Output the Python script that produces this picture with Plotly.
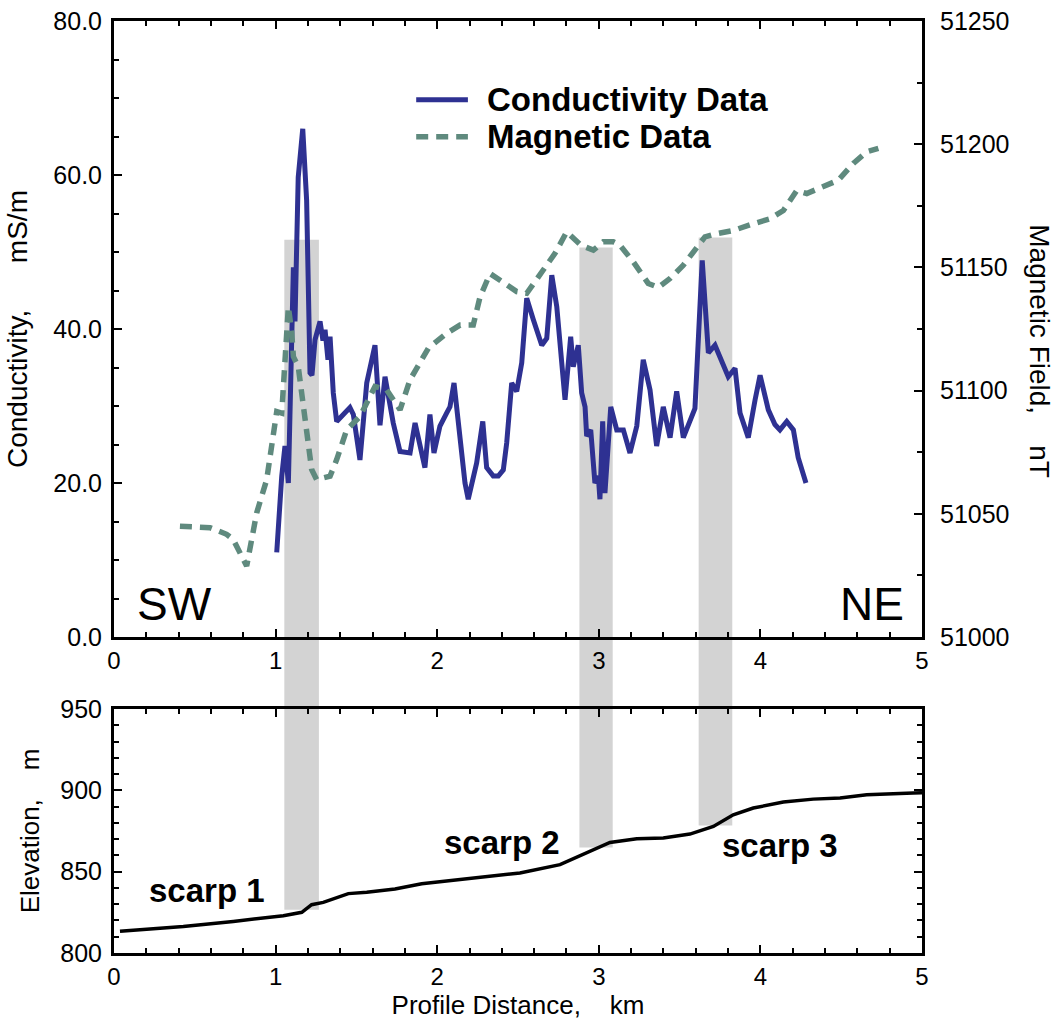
import plotly.graph_objects as go

# ---------------- data ----------------
cond_km = [1.007, 1.038, 1.058, 1.079, 1.110, 1.120, 1.140, 1.168, 1.192, 1.213, 1.225, 1.244,
           1.275, 1.293, 1.306, 1.324, 1.337, 1.357, 1.378, 1.419, 1.460, 1.481, 1.522, 1.564,
           1.615, 1.646, 1.677, 1.728, 1.770, 1.832, 1.863, 1.924, 1.955, 1.980, 2.017, 2.059,
           2.079, 2.104, 2.141, 2.172, 2.192, 2.244, 2.282, 2.306, 2.347, 2.378, 2.409, 2.430,
           2.461, 2.492, 2.523, 2.554, 2.595, 2.647, 2.678, 2.709, 2.740, 2.791, 2.826, 2.842,
           2.873, 2.894, 2.915, 2.925, 2.950, 2.962, 2.976, 2.997, 3.007, 3.024, 3.038, 3.074,
           3.111, 3.152, 3.193, 3.235, 3.275, 3.317, 3.358, 3.399, 3.441, 3.482, 3.523, 3.595,
           3.640, 3.678, 3.719, 3.801, 3.843, 3.874, 3.925, 3.967, 3.998, 4.049, 4.090, 4.121,
           4.163, 4.204, 4.234, 4.282]
cond_val = [11.0, 20.9, 24.8, 20.0, 48.0, 41.0, 59.7, 66.0, 56.7, 34.3, 34.0, 38.6,
            41.0, 38.5, 39.9, 36.0, 39.0, 31.7, 28.0, 29.0, 29.8, 28.9, 23.0, 33.0,
            37.9, 27.5, 33.8, 27.8, 24.1, 23.9, 27.8, 22.0, 28.9, 23.9, 27.4, 29.1,
            29.9, 33.0, 26.5, 20.0, 17.9, 22.6, 28.0, 22.0, 20.9, 20.9, 21.7, 25.2,
            33.0, 31.9, 35.6, 44.0, 41.2, 37.9, 38.8, 47.0, 42.9, 30.8, 39.0, 35.1,
            37.9, 31.7, 29.9, 26.1, 26.9, 22.6, 20.0, 20.9, 17.9, 28.0, 18.7, 29.9,
            26.9, 26.9, 23.9, 27.4, 36.0, 32.1, 24.8, 29.9, 25.9, 31.9, 25.9, 29.7,
            48.9, 36.9, 37.9, 33.8, 34.9, 29.1, 25.9, 30.8, 34.0, 29.5, 27.6, 26.9,
            28.0, 26.9, 23.3, 20.0]

mag_km = [0.408, 0.594, 0.697, 0.738, 0.821, 0.883, 0.945, 0.996, 1.007, 1.038, 1.058, 1.079,
          1.100, 1.110, 1.140, 1.162, 1.192, 1.223, 1.254, 1.295, 1.337, 1.378, 1.440, 1.522,
          1.615, 1.688, 1.749, 1.770, 1.832, 1.894, 1.945, 2.059, 2.141, 2.223, 2.265, 2.327,
          2.492, 2.554, 2.657, 2.729, 2.801, 2.890, 2.966, 3.028, 3.090, 3.131, 3.213, 3.306,
          3.368, 3.441, 3.523, 3.606, 3.657, 3.730, 3.832, 3.956, 4.059, 4.142, 4.225, 4.287,
          4.389, 4.482, 4.575, 4.658, 4.730]
mag_val = [51045.0, 51044.4, 51041.7, 51039.6, 51028.8, 51050.4, 51063.9, 51084.1, 51091.5, 51090.9, 51109.8, 51134.1,
           51123.4, 51113.8, 51109.8, 51099.0, 51082.8, 51068.0, 51063.9, 51064.6, 51065.3, 51072.0, 51084.1, 51089.5,
           51101.7, 51100.3, 51094.3, 51092.2, 51104.4, 51111.2, 51117.2, 51123.3, 51126.6, 51126.6, 51138.0, 51147.5,
           51140.2, 51139.5, 51148.9, 51155.7, 51164.4, 51159.0, 51157.0, 51160.4, 51160.4, 51159.0, 51152.3, 51143.5,
           51141.9, 51145.5, 51150.9, 51158.3, 51162.4, 51163.7, 51165.0, 51167.7, 51169.7, 51173.1, 51181.2, 51180.0,
           51182.7, 51185.4, 51192.2, 51196.9, 51198.3]

elev_km = [0.037, 0.429, 0.738, 1.048, 1.162, 1.223, 1.295, 1.450, 1.564, 1.739, 1.904, 1.997,
           2.244, 2.512, 2.760, 2.925, 3.069, 3.235, 3.399, 3.564, 3.709, 3.832, 3.956, 4.142,
           4.327, 4.493, 4.658, 4.946, 5.000]
elev_val = [813.3, 816.3, 819.4, 822.9, 825.0, 829.7, 831.1, 836.5, 837.3, 839.3, 842.6, 843.6,
            845.9, 849.2, 854.3, 861.5, 868.0, 870.3, 870.7, 873.1, 877.8, 885.0, 889.1, 892.8,
            894.6, 895.3, 897.3, 898.3, 898.5]

band_start = [1.054, 2.880, 3.618]
band_end = [1.268, 3.086, 3.826]
band_top_cond = [51.6, 50.6, 51.9]
band_bottom_elev = [826.6, 864.9, 878.4]

scarp_labels = ["scarp 1", "scarp 2", "scarp 3"]
scarp_km = [0.575, 2.40, 4.12]
scarp_elev = [838.5, 868.0, 866.0]

legend_names = ["Conductivity Data", "Magnetic Data"]

x_ticks = [0, 1, 2, 3, 4, 5]
cond_ticks = [0, 20, 40, 60, 80]
mag_ticks = [51000, 51050, 51100, 51150, 51200, 51250]
elev_ticks = [800, 850, 900, 950]

# ---------------- styles ----------------
FONT = "Liberation Sans, Arial, Helvetica, sans-serif"
COND_COLOR = "#2E3192"
MAG_COLOR = "#5F8A7E"
BAND_COLOR = "#D3D3D3"
MAG_DASH = "12px,8px"
TOP_DOMAIN = [0.339, 1.0]
BOT_DOMAIN = [0.0, 0.2618]
NB = "\u00a0"

fig = go.Figure()

fig.add_trace(go.Scatter(x=cond_km, y=cond_val, mode="lines", name=legend_names[0], showlegend=False,
                         line=dict(color=COND_COLOR, width=5), xaxis="x", yaxis="y"))
fig.add_trace(go.Scatter(x=mag_km, y=mag_val, mode="lines", name=legend_names[1], showlegend=False,
                         line=dict(color=MAG_COLOR, width=5.5, dash=MAG_DASH), xaxis="x", yaxis="y2"))
fig.add_trace(go.Scatter(x=elev_km, y=elev_val, mode="lines", name="Elevation", showlegend=False,
                         line=dict(color="black", width=3.5), xaxis="x2", yaxis="y3"))

shapes = []
for x0, x1, top, bot in zip(band_start, band_end, band_top_cond, band_bottom_elev):
    shapes.append(dict(type="rect", xref="x", yref="y", x0=x0, x1=x1, y0=0, y1=top,
                       fillcolor=BAND_COLOR, line=dict(width=0), layer="below"))
    shapes.append(dict(type="rect", xref="x", yref="paper", x0=x0, x1=x1,
                       y0=BOT_DOMAIN[1], y1=TOP_DOMAIN[0],
                       fillcolor=BAND_COLOR, line=dict(width=0), layer="below"))
    shapes.append(dict(type="rect", xref="x2", yref="y3", x0=x0, x1=x1, y0=bot, y1=950,
                       fillcolor=BAND_COLOR, line=dict(width=0), layer="below"))

# legend (drawn manually to match the long line samples)
legend_rows = [0.872, 0.812]
legend_styles = [dict(color=COND_COLOR, width=5), dict(color=MAG_COLOR, width=5.5, dash=MAG_DASH)]
annotations = []
for name, yy, st in zip(legend_names, legend_rows, legend_styles):
    shapes.append(dict(type="line", xref="x domain", yref="y domain", x0=0.374, x1=0.438,
                       y0=yy, y1=yy, line=st))
    annotations.append(dict(text=name, x=0.459, y=yy, xref="x domain", yref="y domain",
                            showarrow=False, xanchor="left", yanchor="middle",
                            font=dict(family=FONT, size=33, color="black", weight="bold")))

for txt, xk, ye in zip(scarp_labels, scarp_km, scarp_elev):
    annotations.append(dict(text=txt, x=xk, y=ye, xref="x2", yref="y3", showarrow=False,
                            font=dict(family=FONT, size=33, color="black", weight="bold"),
                            xanchor="center", yanchor="middle"))
annotations.append(dict(text="SW", x=0.13, y=4.3, xref="x", yref="y", showarrow=False,
                        xanchor="left", yanchor="middle",
                        font=dict(family=FONT, size=46, color="black")))
annotations.append(dict(text="NE", x=4.9, y=4.3, xref="x", yref="y", showarrow=False,
                        xanchor="right", yanchor="middle",
                        font=dict(family=FONT, size=46, color="black")))
annotations.append(dict(text="Magnetic Field," + NB * 4 + "nT", x=1.146, y=0.464, xref="paper",
                        yref="y domain", showarrow=False, textangle=90,
                        xanchor="center", yanchor="middle",
                        font=dict(family=FONT, size=28, color="black")))

tick_font = dict(family=FONT, size=24, color="black")
ytick_font = dict(family=FONT, size=25, color="black")
title_font = dict(family=FONT, size=26, color="black")

common_x = dict(range=[0, 5], tickvals=x_ticks, ticks="inside", ticklen=8, tickwidth=2,
                tickcolor="black", showline=True, linewidth=3, linecolor="black",
                mirror="ticks", showgrid=False, zeroline=False, tickfont=tick_font,
                automargin=False,
                minor=dict(dtick=0.2, ticks="inside", ticklen=5, tickwidth=2, tickcolor="black",
                           showgrid=False))

fig.update_layout(
    width=1058, height=1020,
    margin=dict(l=114, r=136, t=21, b=67, autoexpand=False),
    paper_bgcolor="white", plot_bgcolor="rgba(0,0,0,0)",
    showlegend=False,
    xaxis=dict(domain=[0, 1], anchor="y", **common_x),
    yaxis=dict(domain=TOP_DOMAIN, anchor="x", range=[0, 80], tickvals=cond_ticks,
               tickformat=".1f", ticks="inside", ticklen=8, tickwidth=2, tickcolor="black",
               showline=True, linewidth=3, linecolor="black", mirror=False, automargin=False,
               showgrid=False, zeroline=False, tickfont=ytick_font, ticklabelstandoff=4,
               minor=dict(dtick=5, ticks="inside", ticklen=5, tickwidth=2, tickcolor="black",
                          showgrid=False),
               title=dict(text="Conductivity," + NB * 6 + "mS/m",
                          font=dict(family=FONT, size=28, color="black"), standoff=18)),
    yaxis2=dict(anchor="x", overlaying="y", side="right", range=[51000, 51250], tickvals=mag_ticks,
                tickformat="d", ticks="inside", ticklen=8, tickwidth=2, tickcolor="black",
                showline=True, linewidth=3, linecolor="black", showgrid=False, zeroline=False,
                tickfont=ytick_font, ticklabelstandoff=10, automargin=False,
                minor=dict(dtick=25, ticks="inside", ticklen=5, tickwidth=2, tickcolor="black",
                           showgrid=False)),
    xaxis2=dict(domain=[0, 1], anchor="y3",
                title=dict(text="Profile Distance," + NB * 4 + "km", font=title_font, standoff=6),
                **common_x),
    yaxis3=dict(domain=BOT_DOMAIN, anchor="x2", range=[800, 950], tickvals=elev_ticks,
                ticks="inside", ticklen=8, tickwidth=2, tickcolor="black",
                showline=True, linewidth=3, linecolor="black", mirror="ticks", automargin=False,
                showgrid=False, zeroline=False, tickfont=ytick_font, ticklabelstandoff=4,
                minor=dict(dtick=10, ticks="inside", ticklen=5, tickwidth=2, tickcolor="black",
                           showgrid=False),
                title=dict(text="Elevation," + NB * 4 + "m", font=title_font, standoff=14)),
    shapes=shapes,
    annotations=annotations,
)

fig.write_html("out.html")
